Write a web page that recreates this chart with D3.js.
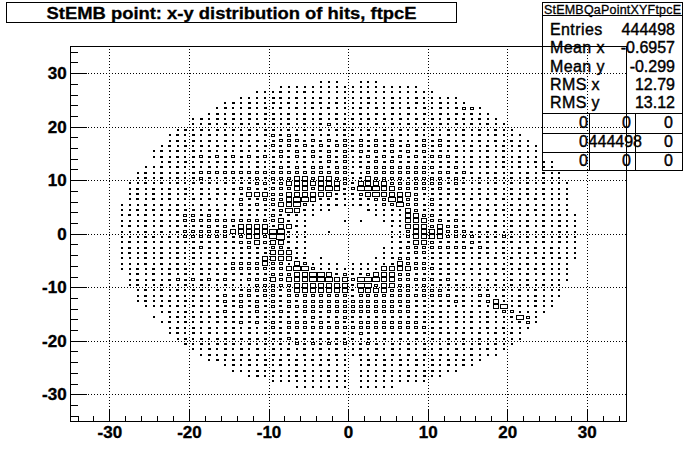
<!DOCTYPE html>
<html><head><meta charset="utf-8">
<script src="https://cdn.jsdelivr.net/npm/d3@7"></script>
<style>
html,body{margin:0;padding:0;background:#fff}
svg{display:block}
text{font-family:"Liberation Sans",Arial,sans-serif;fill:#000}
</style></head><body><div id="c"></div>
<script>
const titleText = "StEMB point: x-y distribution of hits, ftpcE";
const statsName = "StEMBQaPointXYFtpcE";
const statLabels = ["Entries","Mean x","Mean y","RMS x","RMS y"];
const statValues = ["444498","-0.6957","-0.299","12.79","13.12"];
const overflowTable = [["0","0","0"],["0","444498","0"],["0","0","0"]];
const majorTicks = [-30,-20,-10,0,10,20,30];
const minorTicks = [-34,-32,-28,-26,-24,-22,-18,-16,-14,-12,-8,-6,-4,-2,2,4,6,8,12,14,16,18,22,24,26,28,32,34];
// estimated bin count for each level character in the rows
const levelCounts = [0,54,170,400,1110,1614,2400];
// bin centre y of every row, top to bottom
const yBins = [28.5,27.5,26.5,25.5,24.5,23.5,22.5,21.5,20.5,19.5,18.5,17.5,16.5,15.5,14.5,13.5,12.5,11.5,10.5,9.5,8.5,7.5,6.5,5.5,4.5,3.5,2.5,1.5,0.5,
 -0.5,-1.5,-2.5,-3.5,-4.5,-5.5,-6.5,-7.5,-8.5,-9.5,-10.5,-11.5,-12.5,-13.5,-14.5,-15.5,-16.5,-17.5,-18.5,-19.5,-20.5,-21.5,-22.5,-23.5,-24.5,-25.5,-26.5,-27.5,-28.5];
// left half of each row: last character is the bin at x=-0.5
const rowsLeft = [
"111.","111111111","111211211111","11112212112111","1212112121122121","12112121212121211","121212122121212121",
"12121212122121212121","11212121212121212312","1212121212122121212122","12121212122123232121212","12121212121212333232323",
"121212121212123232323233","1212121212121212323232323","1212123232323232323232323","121212122221212121212323","11212121212121212323233233",
"121212123333333333333333333","121212123212222323334434433","1121212122212222332344444443","1212121212121233223334434542",
"1212121212122224443344444422","1212121121211132233345542221","11121212112112132323445311221","112121222212211222223542111..",
"1212121233232122211322211....","111212123333333333334211....1","121212122223232444424421.....","111212123333334444455211..1..",
"111221213333332344356211.....","121212122222222334344211.....","121212121232222232233221.....","121212121212121222244411.....",
"111212121212212222444422.1...","111212121212223333433143" + "1111.","11212122212212333333345531111",
"1212121212122222223334455423","1212123232323213334344455544","1211211212112111333334444444",
"121212122121223333234444444","121212122123233233233333333","121121212123232323232333333",
"11212122122232323233333333","121212123222322322332333","1.12121222222222222232223",
"121212122232323233323232","12121212212123233333333","12121212212122222222222",
"1212122222222232222222","212122212121213232323","11212121212121212121",
"1212121212121212121","121212121212121211","1212121212112111","111212112211211","1211112111211","1111111111","1111111"];
// right half of each row: first character is the bin at x=0.5
const rowsRight = [
".111","111111111","11111111111","11211211211111","112112112112111","12121212121212331","121212121212121211",
"2121212121212121211","12121212121212121211","212121212121212121211","2121212121212121212111","23232321232321212121211",
"232323232323221212121211","232323232322121212121111","123232323233321212121211","12232322222222121212121211","12333333333223121212121111",
"213333333323323212212121211","124333323333232121212121211","2444433333332321212121212111","3555443333232221212121212111",
"2345444432222221212121212111","1223354331321212121212121111","1211335332322121212121212111","..21121432221212121212121111",
"...11114433222212121212121211",".1..1214443323212121212121211",".....114443433212121212121211",".....113444433322221212121211",
".....113444433332223212121211",".....122443222232222212121211","....1123333333323212121212111","....1122332222212212121212111",
"...11233222212212121212121211","1111124333222221212121212111","1111444433322112121212121111",
"2234443322222221212121212111","3555443333323111121121211111","255344332322222121212121211",
"244443332333222122121212111","233333333333322133121212111","33333333222223212341121211",
"33333323222221212145121211","3333333322221212121331111","222222222222121212112531",
"233333333222121212111231","33333333332212121212111","2322222222222121212121",
"2121212121212121211111","123212121211212121211","12121212121212121211",
"1212121212121212111",".1212121212121211",".121212121212121",".1112112122111",".11111121211",".111111111",".11111"];

const W=696,H=468;
const x=d3.scaleLinear().domain([-35,35]).range([69.6,626.6]);
const y=d3.scaleLinear().domain([-35,35]).range([421,46.4]);
const boxFrac=d3.scaleSqrt().domain([0,2400]).range([0,1]);
const svg=d3.select("#c").append("svg").attr("width",W).attr("height",H);

// grid
const grid=svg.append("g").attr("stroke","#000").attr("stroke-dasharray","1 2").attr("shape-rendering","crispEdges");
grid.selectAll("line.v").data(majorTicks).join("line").attr("class","v")
 .attr("x1",d=>Math.round(x(d))+.5).attr("x2",d=>Math.round(x(d))+.5).attr("y1",y(35)).attr("y2",y(-35));
grid.selectAll("line.h").data(majorTicks).join("line").attr("class","h")
 .attr("y1",d=>Math.round(y(d))+.5).attr("y2",d=>Math.round(y(d))+.5).attr("x1",x(-35)).attr("x2",x(35));

// histogram boxes
const bw=x(1)-x(0), bh=y(0)-y(1);
const cells=[];
yBins.forEach((yb,i)=>{
  const L=rowsLeft[i],R=rowsRight[i];
  [...L].forEach((c,j)=>{ if(c!==".") cells.push({x:-0.5-(L.length-1-j),y:yb,n:levelCounts[+c]}); });
  [...R].forEach((c,j)=>{ if(c!==".") cells.push({x:0.5+j,y:yb,n:levelCounts[+c]}); });
});
svg.append("g").attr("fill","none").attr("stroke","#000").attr("shape-rendering","crispEdges")
 .selectAll("rect").data(cells).join("rect")
 .each(function(d){
   const w=Math.max(1,Math.round(bw*boxFrac(d.n))), h=Math.max(1,Math.round(bh*boxFrac(d.n)));
   d3.select(this).attr("x",Math.round(x(d.x)-w/2)+.5).attr("y",Math.round(y(d.y)-h/2)+.5).attr("width",w).attr("height",h);
 });

// axes
function styleAxis(g){ g.selectAll("path").attr("stroke","#000").attr("shape-rendering","crispEdges");
  g.selectAll("line").attr("stroke","#000").attr("shape-rendering","crispEdges"); }
const gx=svg.append("g").attr("transform",`translate(0,${y(-35)})`);
gx.call(d3.axisBottom(x).tickValues(majorTicks).tickSize(-11).tickSizeOuter(0).tickFormat(String)).call(styleAxis);
gx.selectAll("text").attr("y",16.5).attr("dy",0).attr("font-size",17).attr("font-weight","bold").attr("stroke","#000").attr("stroke-width",.35).style("font-family",'"Liberation Sans"');
const gxm=svg.append("g").attr("transform",`translate(0,${y(-35)})`);
gxm.call(d3.axisBottom(x).tickValues(minorTicks).tickSize(-5.5).tickSizeOuter(0).tickFormat("")).call(styleAxis);
const gy=svg.append("g").attr("transform",`translate(${x(-35)},0)`);
gy.call(d3.axisLeft(y).tickValues(majorTicks).tickSize(-17).tickSizeOuter(0).tickFormat(String)).call(styleAxis);
gy.selectAll("text").attr("x",-3).attr("dy",5.5).attr("font-size",17).attr("font-weight","bold").attr("stroke","#000").attr("stroke-width",.35).style("font-family",'"Liberation Sans"');
const gym=svg.append("g").attr("transform",`translate(${x(-35)},0)`);
gym.call(d3.axisLeft(y).tickValues(minorTicks).tickSize(-8).tickSizeOuter(0).tickFormat("")).call(styleAxis);

// top and right frame lines
const fr=svg.append("g").attr("stroke","#000").attr("shape-rendering","crispEdges");
fr.append("line").attr("x1",x(-35)).attr("x2",x(35)).attr("y1",y(35)).attr("y2",y(35));
fr.append("line").attr("x1",x(35)).attr("x2",x(35)).attr("y1",y(35)).attr("y2",y(-35));

// title box
svg.append("rect").attr("x",6.5).attr("y",2.5).attr("width",450).attr("height",20).attr("fill","none").attr("stroke","#000").attr("shape-rendering","crispEdges");
svg.append("text").attr("x",46.5).attr("y",18.5).attr("font-size",17).attr("font-weight","bold").attr("stroke","#000").attr("stroke-width",.3).attr("textLength",370).attr("lengthAdjust","spacingAndGlyphs").text(titleText);

// stats box
const st=svg.append("g");
const ln=st.append("g").attr("stroke","#000").attr("fill","none").attr("shape-rendering","crispEdges");
ln.append("rect").attr("x",542.5).attr("y",2.5).attr("width",140).attr("height",168);
[[15.5],[113.5],[133.5],[152.5]].forEach(([v])=>ln.append("line").attr("x1",542.5).attr("x2",682.5).attr("y1",v).attr("y2",v));
[589.5,635.5].forEach(v=>ln.append("line").attr("x1",v).attr("x2",v).attr("y1",113.5).attr("y2",170.5));
st.append("text").attr("x",544).attr("y",13.5).attr("font-size",12.5).attr("textLength",137).attr("lengthAdjust","spacing").attr("stroke","#000").attr("stroke-width",.3).text(statsName);
const statY=[35,53.4,71.7,90,108.4];
statLabels.forEach((s,i)=>{
  st.append("text").attr("x",550).attr("y",statY[i]).attr("font-size",16).attr("letter-spacing",.4).attr("stroke","#000").attr("stroke-width",.4).text(s);
  st.append("text").attr("x",675).attr("y",statY[i]).attr("text-anchor","end").attr("font-size",16).attr("stroke","#000").attr("stroke-width",.4).text(statValues[i]);
});
const tableY=[128,147,166];
const tableX=[588,631,673];
overflowTable.forEach((row,i)=>row.forEach((s,j)=>{
  const xr = (i===1&&j===1)?642:tableX[j];
  st.append("text").attr("x",xr).attr("y",tableY[i]).attr("text-anchor","end").attr("font-size",16).attr("stroke","#000").attr("stroke-width",.4).text(s);
}));
</script></body></html>
